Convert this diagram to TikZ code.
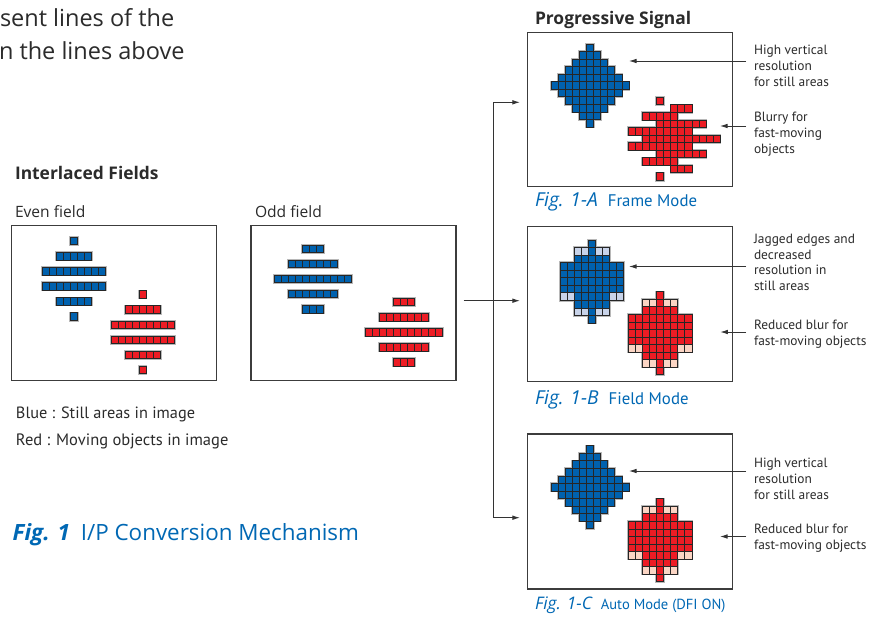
\documentclass[tikz,border=0pt]{standalone}
\usepackage{fontspec}
\setmainfont{Open Sans}
\newfontfamily\cnd{PT Sans}
\usetikzlibrary{arrows.meta}
\definecolor{txt}{HTML}{2B2B2B}
\definecolor{capblue}{HTML}{0068B4}
\definecolor{cblue}{HTML}{0061AE}
\definecolor{cred}{HTML}{ED1C24}
\definecolor{lblue}{HTML}{C8D3E9}
\definecolor{lred}{HTML}{FBD5C4}
\definecolor{pline}{HTML}{3C3C3C}
\definecolor{cellline}{HTML}{262626}
\definecolor{aline}{HTML}{333333}
\def\cw{7.05}
\def\ch{7.55}
% one row of cells: cx, top y, row index, number of cells, fill
\newcommand\crow[5]{\foreach \kk in {1,...,#4}{\path[fill=#5,cellpass] ({#1+(\kk-1-(#4)/2)*\cw},{#2+(#3)*\ch}) rectangle ++(\cw,\ch);}}
\newcommand\fulldia[3]{\foreach \rw/\nc in {0/1,1/3,2/5,3/7,4/9,5/11,6/9,7/7,8/5,9/3,10/1}{\crow{#1}{#2}{\rw}{\nc}{#3}}}
\newcommand\evenf[3]{\foreach \rw/\nc in {0/1,2/5,4/9,6/9,8/5,10/1}{\crow{#1}{#2}{\rw}{\nc}{#3}}}
\newcommand\oddf[3]{\foreach \rw/\nc in {1/3,3/7,5/11,7/7,9/3}{\crow{#1}{#2}{\rw}{\nc}{#3}}}
\newcommand\blurdia[3]{\evenf{#1}{#2}{#3}\oddf{#1+3*\cw}{#2}{#3}}
\newcommand\fielddia[4]{%
  \foreach \rw/\nc/\cc in {0/1/#3,1/5/#4,2/5/#3,3/9/#3,4/9/#3,5/9/#3,6/9/#3,7/9/#4,8/5/#3,9/5/#4,10/1/#3}{\crow{#1}{#2}{\rw}{\nc}{\cc}}%
  \crow{#1}{#2}{1}{1}{#3}\crow{#1}{#2}{7}{5}{#3}\crow{#1}{#2}{9}{1}{#3}}
\newcommand\allcells{%
  \evenf{73.8}{237.3}{cblue}\evenf{142.7}{290.7}{cred}%
  \oddf{313}{237.4}{cblue}\oddf{404}{290.7}{cred}%
  \fulldia{590.2}{44}{cblue}\blurdia{660.2}{97.3}{cred}%
  \fielddia{592}{240}{cblue}{lblue}\fielddia{660.2}{291.7}{cred}{lred}%
  \fulldia{590.2}{445.7}{cblue}\fielddia{660.2}{498.7}{cred}{lred}}
\begin{document}
\begin{tikzpicture}[x=1pt,y=-1pt,
  panel/.style={draw=pline,line width=1.3,minimum width=205,minimum height=155,inner sep=0,outer sep=0},
  txtst/.style={inner sep=0,outer sep=0,anchor=base west,text=txt},
  ann/.style={inner sep=0,outer sep=0,anchor=north west,align=left,text=txt,font=\cnd\fontsize{13.4}{15.8}\selectfont},
  arr/.style={draw=aline,line width=0.9,-{Latex[length=7.5pt,width=4.6pt]}}]
\useasboundingbox[fill=white] (0,0) rectangle (888,619);
% panels
\node[panel] (even) at (114.2,303.2) {};
\node[panel] (odd) at (353.4,303.2) {};
\node[panel,minimum height=154] (A) at (629.7,109.5) {};
\node[panel] (B) at (629.7,304.2) {};
\node[panel] (C) at (629.7,511.5) {};
% cells
\begin{scope}[cellpass/.style={draw=black!28,line width=2.4}]\allcells\end{scope}
\begin{scope}[cellpass/.style={draw=cellline,line width=0.8}]\allcells\end{scope}
% texts
\node[txtst,font=\fontsize{23.5}{28}\selectfont] (t1) at (0,26) {sent lines of the};
\node[txtst,font=\fontsize{23.5}{28}\selectfont] (t2) at (-1,59.3) {n the lines above};
\node[txtst,font=\bfseries\fontsize{17.4}{20}\selectfont] (intf) at (15,179) {Interlaced Fields};
\node[txtst,font=\bfseries\fontsize{17.4}{20}\selectfont] (prog) at (535,24.5) {Progressive Signal};
\node[txtst,font=\fontsize{15.6}{18}\selectfont] (evl) at (15,217.5) {Even field};
\node[txtst,font=\fontsize{15.6}{18}\selectfont] (odl) at (255,217.5) {Odd field};
\node[txtst,font=\cnd\fontsize{16.3}{20}\selectfont] (lg1) at (16,418.8) {Blue : Still areas in image};
\node[txtst,font=\cnd\fontsize{16.5}{20}\selectfont] (lg2) at (16,445.8) {Red : Moving objects in image};
\node[txtst,text=capblue,font=\fontsize{22.4}{26}\selectfont] (cap) at (12.7,540) {\textbf{\textit{Fig. 1}}\hspace{11pt}I/P Conversion Mechanism};
\node[txtst,text=capblue,font=\fontsize{19.2}{22}\selectfont] (capA) at (535,206) {\textit{Fig. 1-A}\hspace{10pt}{\cnd\fontsize{16.8}{20}\selectfont Frame Mode}};
\node[txtst,text=capblue,font=\fontsize{19.2}{22}\selectfont] (capB) at (535,404) {\textit{Fig. 1-B}\hspace{10pt}{\cnd\fontsize{16.8}{20}\selectfont Field Mode}};
\node[txtst,text=capblue,font=\fontsize{17.3}{22}\selectfont] (capC) at (535,609) {\textit{Fig. 1-C}\hspace{8pt}{\cnd\fontsize{14.6}{20}\selectfont Auto Mode (DFI ON)}};
% annotations
\node[ann] (la1) at (754,45) {High vertical\\resolution\\for still areas};
\node[ann] (la2) at (754,112.3) {Blurry for\\fast-moving\\objects};
\node[ann] (lb1) at (754,234) {Jagged edges and\\decreased\\resolution in\\still areas};
\node[ann] (lb2) at (754,320) {Reduced blur for\\fast-moving objects};
\node[ann] (lc1) at (754,458.3) {High vertical\\resolution\\for still areas};
\node[ann] (lc2) at (754,524) {Reduced blur for\\fast-moving objects};
\coordinate (tA1) at (629,61);
\coordinate (tA2) at (720,126);
\coordinate (tB1) at (629,266.5);
\coordinate (tB2) at (720.3,332);
\coordinate (tC1) at (629,471);
\coordinate (tC2) at (720,536.5);
\draw[arr,shorten <=8] (la1.west |- tA1) -- (tA1);
\draw[arr,shorten <=8] (la2.west |- tA2) -- (tA2);
\draw[arr,shorten <=8] (lb1.west |- tB1) -- (tB1);
\draw[arr,shorten <=8] (lb2.west |- tB2) -- (tB2);
\draw[arr,shorten <=8] (lc1.west |- tC1) -- (tC1);
\draw[arr,shorten <=8] (lc2.west |- tC2) -- (tC2);
% main connectors
\coordinate (ja) at (493.7,102.3);
\coordinate (jb) at (493.7,300.7);
\coordinate (jc) at (493.7,517.7);
\draw[arr,shorten >=7.3] (jc) -- (ja) -- (A.west |- ja);
\draw[arr,shorten >=7.3] (ja) -- (jc) -- (C.west |- jc);
\draw[arr,shorten <=7.6,shorten >=7.3] (odd.east |- jb) -- (B.west |- jb);
\end{tikzpicture}
\end{document}
